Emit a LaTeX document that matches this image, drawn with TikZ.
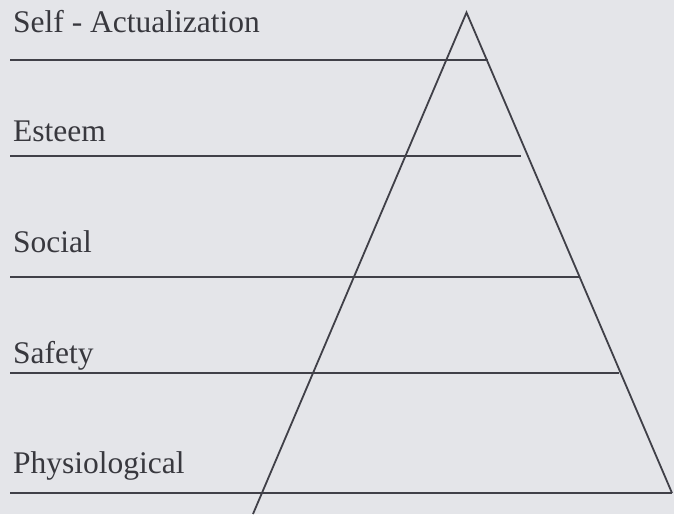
\documentclass[tikz,border=0pt]{standalone}
\usepackage{fontspec}
\setmainfont{Liberation Serif}
\definecolor{paper}{RGB}{228,229,233}
\definecolor{ink}{RGB}{64,64,72}
\definecolor{txt}{RGB}{56,56,62}
\tikzset{
  lvl/.style={draw=ink, line width=2pt},
  leg/.style={draw=ink, line width=1.8pt},
  lbl/.style={anchor=base west, inner sep=0pt, text=txt, font=\fontsize{31.5}{34}\selectfont}
}
\begin{document}
\begin{tikzpicture}[x=1pt,y=-1pt]
\fill[paper] (0,0) rectangle (674,514);
\useasboundingbox (0,0) rectangle (674,514);
% triangle
\coordinate (apex) at (466.5,12.5);
\coordinate (bl) at (253,514);
\coordinate (br) at (672,493);
\draw[leg, line join=miter] (bl) -- (apex) -- (br);
% level lines
\coordinate (l1a) at (10,60);  \coordinate (l1b) at (488,60);
\coordinate (l2a) at (10,156); \coordinate (l2b) at (521,156);
\coordinate (l3a) at (10,277); \coordinate (l3b) at (579,277);
\coordinate (l4a) at (10,373); \coordinate (l4b) at (619,373);
\coordinate (l5a) at (10,493); \coordinate (l5b) at (672,493);
\draw[lvl] (l1a) -- (l1b);
\draw[lvl] (l2a) -- (l2b);
\draw[lvl] (l3a) -- (l3b);
\draw[lvl] (l4a) -- (l4b);
\draw[lvl] (l5a) -- (l5b);
% labels
\node[lbl] (t1) at (13,32) {Self - Actualization};
\node[lbl] (t2) at (13,141) {Esteem};
\node[lbl] (t3) at (13,252) {Social};
\node[lbl] (t4) at (13,363) {Safety};
\node[lbl] (t5) at (13,473) {Physiological};
\end{tikzpicture}
\end{document}
